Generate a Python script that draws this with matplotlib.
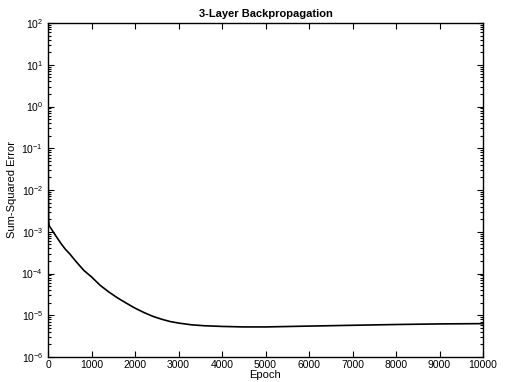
import matplotlib
matplotlib.use("Agg")
import matplotlib.pyplot as plt
from matplotlib.ticker import LogLocator, NullFormatter

plt.rcParams['font.family'] = ['Liberation Sans', 'DejaVu Sans']
plt.rcParams['mathtext.default'] = 'regular'

epochs = [0, 3, 8, 15, 25, 100, 200, 300, 400, 500, 600, 700, 830, 1000,
          1200, 1400, 1600, 1800, 2000, 2200, 2400, 2600, 2800, 3000, 3300,
          3600, 4000, 4500, 5000, 6000, 7000, 8000, 9000, 10000]
errors = [80, 0.5, 0.01, 2.0e-3, 1.41e-3, 1.07e-3, 7.4e-4, 5.2e-4, 3.8e-4,
          2.95e-4, 2.2e-4, 1.66e-4, 1.17e-4, 8.3e-5, 5.2e-5, 3.6e-5, 2.6e-5,
          1.95e-5, 1.48e-5, 1.17e-5, 9.5e-6, 8.1e-6, 7.1e-6, 6.5e-6, 5.9e-6,
          5.6e-6, 5.4e-6, 5.25e-6, 5.25e-6, 5.5e-6, 5.75e-6, 6.0e-6, 6.2e-6, 6.3e-6]

x_ticks = [0, 1000, 2000, 3000, 4000, 5000, 6000, 7000, 8000, 9000, 10000]
x_tick_labels = ['0', '1000', '2000', '3000', '4000', '5000', '6000', '7000', '8000', '9000', '10000']
y_decades = [-6, -5, -4, -3, -2, -1, 0, 1, 2]

fig = plt.figure(figsize=(5.12, 3.82), dpi=100)
ax = fig.add_axes([48/512, 1-357/382, (483-48)/512, (357-23)/382])
ax.plot(epochs, errors, color='black', lw=1.2)
ax.set_yscale('log')
ax.set_xlim(0, 10000)
ax.set_ylim(1e-6, 1e2)

ax.set_xticks(x_ticks)
ax.set_xticklabels(x_tick_labels)
ax.set_yticks([10.0**d for d in y_decades])
ax.set_yticklabels([r'$10^{%d}$' % d for d in y_decades])
ax.yaxis.set_minor_locator(LogLocator(base=10, subs=range(2, 10), numticks=20))
ax.yaxis.set_minor_formatter(NullFormatter())

ax.tick_params(which='both', direction='in', top=True, right=True, labelsize=7.5, width=0.8)
ax.tick_params(which='major', length=4)
ax.tick_params(which='minor', length=2)
ax.tick_params(axis='x', pad=2)
for s in ax.spines.values():
    s.set_linewidth(1.0)

ax.set_xlabel('Epoch', fontsize=8, labelpad=0)
ax.set_ylabel('Sum-Squared Error', fontsize=8, labelpad=3)
ax.set_title('3-Layer Backpropagation', fontsize=8, fontweight='bold', pad=4)

fig.savefig('out.png', dpi=100)
